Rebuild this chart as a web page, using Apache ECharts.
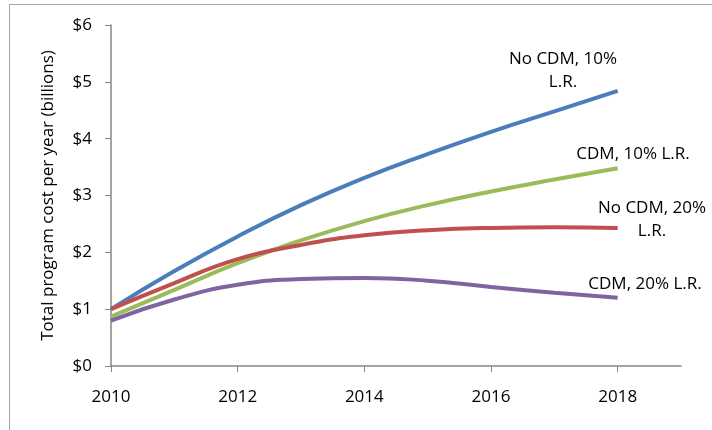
<!DOCTYPE html>
<html>
<head>
<meta charset="utf-8">
<script src="https://cdn.jsdelivr.net/npm/echarts@6/dist/echarts.min.js"></script>
<style>
  html, body { margin: 0; padding: 0; background: #fff; }
  #chart { width: 712px; height: 430px; }
</style>
</head>
<body>
<div id="chart"></div>
<script>
// values, billions of dollars per year
const years = [2010, 2011, 2012, 2013, 2014, 2015, 2016, 2017, 2018]
const tickYears = [2010, 2012, 2014, 2016, 2018]
const noCdm10 = [1.0, 1.67, 2.28, 2.83, 3.31, 3.73, 4.12, 4.48, 4.84]
const cdm10 = [0.87, 1.34, 1.81, 2.21, 2.55, 2.83, 3.07, 3.28, 3.48]
const noCdm20 = [1.0, 1.46, 1.88, 2.13, 2.3, 2.39, 2.43, 2.44, 2.43]
const cdm20 = [0.8, 1.17, 1.43, 1.53, 1.55, 1.5, 1.39, 1.29, 1.2]

const font = '"Open Sans", sans-serif'
const fs = 17

function pairs(vals) {
  return years.map((y, i) => [y, vals[i]])
}

function line(name, vals, color) {
  return {
    name: name,
    type: 'line',
    data: pairs(vals),
    smooth: 0.5,
    symbol: 'none',
    lineStyle: { color: color, width: 4 },
    z: 3
  }
}

function note(text, x, y) {
  return {
    type: 'text',
    x: x,
    y: y,
    style: {
      text: text,
      font: fs + 'px ' + font,
      fill: '#000',
      align: 'center',
      verticalAlign: 'middle',
      lineHeight: 23
    }
  }
}

const chart = echarts.init(document.getElementById('chart'))
chart.setOption({
  animation: false,
  grid: { left: 111, right: 31, top: 25, bottom: 64 },
  xAxis: {
    type: 'value',
    min: 2010,
    max: 2019,
    interval: 2,
    splitLine: { show: false },
    axisLine: { lineStyle: { color: '#868686', width: 1.5 } },
    axisTick: { length: 6, customValues: tickYears, lineStyle: { color: '#868686' } },
    axisLabel: {
      customValues: tickYears,
      margin: 23,
      color: '#000',
      fontSize: fs,
      fontFamily: font,
      formatter: v => String(v)
    }
  },
  yAxis: {
    type: 'value',
    min: 0,
    max: 6,
    interval: 1,
    name: 'Total program cost per year (billions)',
    nameLocation: 'middle',
    nameGap: 54,
    nameTextStyle: { color: '#000', fontSize: fs, fontFamily: font },
    splitLine: { show: false },
    axisLine: { show: true, lineStyle: { color: '#868686', width: 1.5 } },
    axisTick: { show: true, length: 6, lineStyle: { color: '#868686' } },
    axisLabel: {
      margin: 19,
      color: '#000',
      fontSize: fs,
      fontFamily: font,
      formatter: v => '$' + v
    }
  },
  series: [
    line('No CDM, 10% L.R.', noCdm10, '#4A7EBB'),
    line('CDM, 10% L.R.', cdm10, '#9BBB59'),
    line('No CDM, 20% L.R.', noCdm20, '#C0504D'),
    line('CDM, 20% L.R.', cdm20, '#8064A2')
  ],
  graphic: [
    {
      type: 'rect',
      shape: { x: 9.5, y: 4.5, width: 720, height: 440 },
      style: { fill: 'none', stroke: '#a6a6a6', lineWidth: 1 }
    },
    note('No CDM, 10%\nL.R.', 563, 71),
    note('CDM, 10% L.R.', 633, 154),
    note('No CDM, 20%\nL.R.', 652, 220),
    note('CDM, 20% L.R.', 645, 284)
  ]
})
</script>
</body>
</html>
